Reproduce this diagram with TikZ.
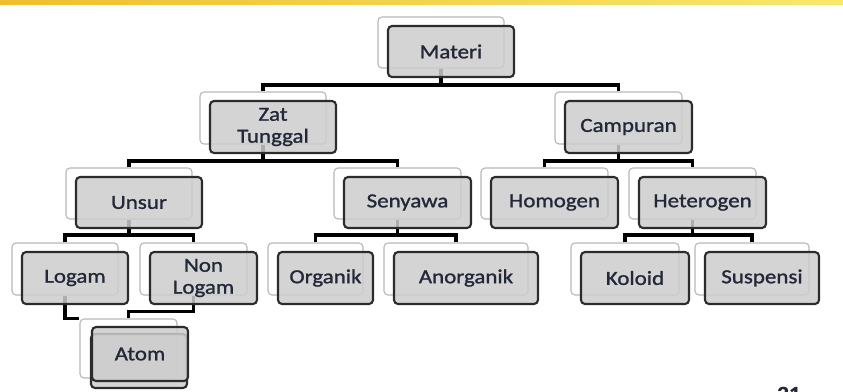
\documentclass[tikz,border=0pt]{standalone}
\usepackage{fontspec}
\setmainfont{Carlito}[FakeStretch=1.15, FakeBold=1.2]
\definecolor{ink}{HTML}{222838}
\definecolor{boxfill}{HTML}{CDCDCD}
\definecolor{boxline}{HTML}{2C2C2C}
\definecolor{backline}{HTML}{B8B8B8}
\definecolor{bandL}{HTML}{F0BE2C}
\definecolor{bandR}{HTML}{F7E86E}
\begin{document}
\begin{tikzpicture}[x=0.025cm, y=-0.025cm,
    sz/.style 2 args={minimum width=#1*0.025cm, minimum height=#2*0.025cm},
    backbox/.style={draw=backline, line width=0.8pt, fill=white, rounded corners=0.1cm, inner sep=0pt},
    frontbox/.style={draw=boxline, line width=1.5pt, fill=boxfill, fill opacity=0.85, text opacity=1,
      rounded corners=0.1cm, inner sep=0pt, text=ink, align=center, font=\fontsize{14.2}{15.6}\selectfont},
    conn/.style={line width=2.7pt}]
    \useasboundingbox (0,0) rectangle (843,391);
    \fill[left color=bandL, right color=bandR] (0,0) rectangle (843,4);
    \node[anchor=base west, inner sep=0pt, text=ink, font=\bfseries\fontsize{14.2}{15.6}\selectfont] (pagenum) at (777,400) {21};

    \node[backbox, sz={126}{51}] (materiB) at (441,42.5) {};
    \node[backbox, sz={126}{52}] (zatB) at (263,118) {};
    \node[backbox, sz={127}{52}] (campuranB) at (618.5,118) {};
    \node[backbox, sz={126}{51}] (unsurB) at (129,193.5) {};
    \node[backbox, sz={127}{51}] (senyawaB) at (397.5,193.5) {};
    \node[backbox, sz={127}{51}] (homogenB) at (544.5,193.5) {};
    \node[backbox, sz={127}{51}] (heterogenB) at (692.5,193.5) {};
    \node[backbox, sz={106}{52}] (logamB) at (65,269) {};
    \node[backbox, sz={107}{52}] (nonlogamB) at (193.5,269) {};
    \node[backbox, sz={95}{52}] (organikB) at (315.5,269) {};
    \node[backbox, sz={144}{52}] (anorganikB) at (456,269) {};
    \node[backbox, sz={108}{52}] (koloidB) at (625,269) {};
    \node[backbox, sz={114}{52}] (suspensiB) at (752,269) {};
    \node[backbox, sz={97}{59}] (atomB) at (128.5,348.5) {};

    \coordinate (bar0) at (0,85);
    \coordinate (bar1) at (0,161);
    \coordinate (bar2) at (0,235);
    \coordinate (bar3) at (0,311.5);

    \draw[conn] (materiB.south) -- (materiB.south |- bar0);
    \draw[conn] (zatB.north) |- (materiB.south |- bar0) -| (campuranB.north);
    \draw[conn] (zatB.south) -- (zatB.south |- bar1);
    \draw[conn] (unsurB.north) |- (zatB.south |- bar1) -| (senyawaB.north);
    \draw[conn] (campuranB.south) -- (campuranB.south |- bar1);
    \draw[conn] (homogenB.north) |- (campuranB.south |- bar1) -| (heterogenB.north);
    \draw[conn] (unsurB.south) -- (unsurB.south |- bar2);
    \draw[conn] (logamB.north) |- (unsurB.south |- bar2) -| (nonlogamB.north);
    \draw[conn] (senyawaB.south) -- (senyawaB.south |- bar2);
    \draw[conn] (organikB.north) |- (senyawaB.south |- bar2) -| (anorganikB.north);
    \draw[conn] (heterogenB.south) -- (heterogenB.south |- bar2);
    \draw[conn] (koloidB.north) |- (heterogenB.south |- bar2) -| (suspensiB.north);
    \draw[conn] (logamB.south) |- (atomB.north west);
    \draw[conn] (nonlogamB.south) -- (nonlogamB.south |- bar3) -| (atomB.north);

    \node[frontbox, sz={126}{51}] (materi) at (451,51.5) {Materi};
    \node[frontbox, sz={126}{52}] (zat) at (273,127) {Zat\\Tunggal};
    \node[frontbox, sz={127}{52}] (campuran) at (628.5,127) {Campuran};
    \node[frontbox, sz={126}{51}] (unsur) at (139,202.5) {Unsur};
    \node[frontbox, sz={127}{51}] (senyawa) at (407.5,202.5) {Senyawa};
    \node[frontbox, sz={127}{51}] (homogen) at (554.5,202.5) {Homogen};
    \node[frontbox, sz={127}{51}] (heterogen) at (702.5,202.5) {Heterogen};
    \node[frontbox, sz={106}{52}] (logam) at (75,278) {Logam};
    \node[frontbox, sz={107}{52}] (nonlogam) at (203.5,278) {Non\\Logam};
    \node[frontbox, sz={95}{52}] (organik) at (325.5,278) {Organik};
    \node[frontbox, sz={144}{52}] (anorganik) at (466,278) {Anorganik};
    \node[frontbox, sz={108}{52}] (koloid) at (635,278) {Koloid};
    \node[frontbox, sz={114}{52}] (suspensi) at (762,278) {Suspensi};
    \node[frontbox, sz={96}{54}] (atomS) at (139,361) {};
    \node[frontbox, sz={96}{54}] (atom) at (140,354) {Atom};
\end{tikzpicture}
\end{document}
